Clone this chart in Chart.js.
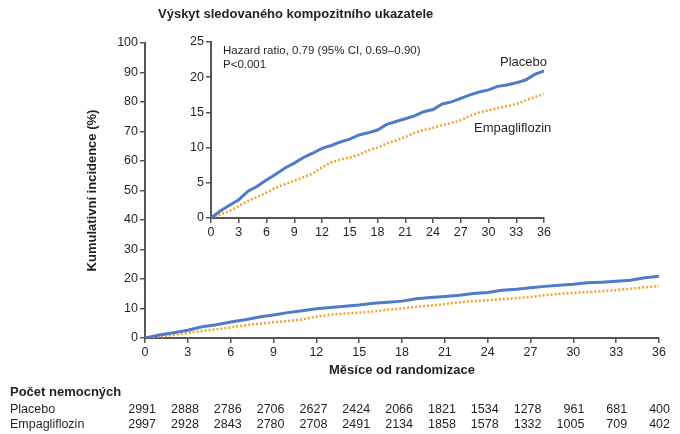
<!DOCTYPE html>
<html>
<head>
<meta charset="utf-8">
<script src="https://cdn.jsdelivr.net/npm/chart.js@4.4.1/dist/chart.umd.min.js"></script>
<style>
  html, body { margin: 0; padding: 0; background: #fff; }
  #wrap { position: relative; width: 680px; height: 434px; }
  canvas { position: absolute; left: 0; top: 0; }
</style>
</head>
<body>
<div id="wrap">
  <canvas id="main" width="680" height="434"></canvas>
  <canvas id="inset" width="680" height="434"></canvas>
</div>
<script>
// months since randomization
const months = [0, 1, 2, 3, 4, 5, 6, 7, 8, 9, 10, 11, 12, 13, 14, 15, 16, 17, 18,
  19, 20, 21, 22, 23, 24, 25, 26, 27, 28, 29, 30, 31, 32, 33, 34, 35, 36];

// cumulative incidence (%)
const placebo = [0, 1.0, 1.8, 2.6, 3.8, 4.5, 5.4, 6.2, 7.1, 7.8, 8.6, 9.2, 9.9, 10.3,
  10.8, 11.2, 11.8, 12.1, 12.5, 13.3, 13.7, 14.1, 14.5, 15.1, 15.4, 16.2, 16.5, 17.0,
  17.5, 17.9, 18.2, 18.7, 18.9, 19.2, 19.6, 20.4, 20.9];
const empagliflozin = [0, 0.5, 1.0, 1.7, 2.4, 3.0, 3.6, 4.3, 4.8, 5.3, 5.8, 6.3, 7.2,
  7.9, 8.3, 8.6, 9.0, 9.6, 10.0, 10.6, 11.0, 11.5, 12.1, 12.5, 12.8, 13.2, 13.5, 13.9,
  14.5, 15.0, 15.3, 15.6, 15.9, 16.2, 16.7, 17.2, 17.6];

// numbers at risk
const riskTicks = [0, 3, 6, 9, 12, 15, 18, 21, 24, 27, 30, 33, 36];
const riskPlacebo = [2991, 2888, 2786, 2706, 2627, 2424, 2066, 1821, 1534, 1278, 961, 681, 400];
const riskEmpa = [2997, 2928, 2843, 2780, 2708, 2491, 2134, 1858, 1578, 1332, 1005, 709, 402];
const groupNames = ["Placebo", "Empagliflozin"];

const BLUE = "#4f7bc8";
const ORANGE = "#f4a22c";
const AXIS = "#555";
const TEXT = "#231f20";
const NARROW = "'Liberation Sans Narrow', 'Liberation Sans', sans-serif";
const SANS = "'Liberation Sans', Arial, sans-serif";

function toXY(ys) {
  return months.map((m, i) => ({ x: m, y: ys[i] }));
}

function datasets(w) {
  return [
    { data: toXY(placebo), borderColor: BLUE, borderWidth: w, pointRadius: 0 },
    { data: toXY(empagliflozin), borderColor: ORANGE, borderWidth: w - 0.5, borderDash: [2, 2], pointRadius: 0 }
  ];
}

function axis(min, max, step, extra) {
  return Object.assign({
    type: "linear", min, max,
    ticks: { stepSize: step, autoSkip: false, maxRotation: 0, color: TEXT, padding: 2,
      font: { family: NARROW, size: 12.5 } },
    grid: { drawOnChartArea: false, tickLength: 5, color: AXIS, lineWidth: 1.5 },
    border: { color: AXIS, width: 2 }
  }, extra);
}

const mainText = {
  id: "mainText",
  afterDraw(chart) {
    const ctx = chart.ctx;
    const x = chart.scales.x;
    ctx.save();
    ctx.fillStyle = TEXT;
    ctx.textBaseline = "middle";
    ctx.font = "bold 13px " + NARROW;
    ctx.fillText("Výskyt sledovaného kompozitního ukazatele", 158, 14);
    ctx.fillText("Počet nemocných", 10, 392);
    ctx.font = "12.5px " + NARROW;
    ctx.fillText(groupNames[0], 10, 410);
    ctx.fillText(groupNames[1], 10, 425);
    ctx.textAlign = "right";
    riskTicks.forEach((t, i) => {
      const px = x.getPixelForValue(t) + 11;
      ctx.fillText(String(riskPlacebo[i]), px, 410);
      ctx.fillText(String(riskEmpa[i]), px, 425);
    });
    ctx.restore();
  }
};

const insetText = {
  id: "insetText",
  afterDraw(chart) {
    const ctx = chart.ctx;
    ctx.save();
    ctx.fillStyle = TEXT;
    ctx.textBaseline = "middle";
    ctx.font = "11.5px " + SANS;
    ctx.fillText("Hazard ratio, 0.79 (95% CI, 0.69–0.90)", 223, 51);
    ctx.fillText("P<0.001", 223, 65);
    ctx.font = "13px " + NARROW;
    ctx.fillText(groupNames[0], 500, 62);
    ctx.fillText(groupNames[1], 474, 128);
    ctx.restore();
  }
};

new Chart(document.getElementById("main"), {
  type: "line",
  data: { datasets: datasets(3) },
  plugins: [mainText],
  options: {
    responsive: false, animation: false, devicePixelRatio: 1,
    layout: { padding: { top: 43, right: 21, left: 0, bottom: 0 } },
    plugins: { legend: { display: false }, tooltip: { enabled: false } },
    scales: {
      x: axis(0, 36, 3, {
        title: { display: true, text: "Měsíce od randomizace", color: TEXT,
          font: { family: NARROW, size: 13, weight: "bold" }, padding: { top: 0, bottom: 56 } },
        afterFit(s) { s.height = 96; s.paddingLeft = 0; s.paddingRight = 0; }
      }),
      y: axis(0, 100, 10, {
        title: { display: true, text: "Kumulativní incidence (%)", color: TEXT,
          font: { family: NARROW, size: 13, weight: "bold" }, padding: { top: 85, bottom: 0 } },
        afterFit(s) { s.width = 145; s.paddingTop = 0; s.paddingBottom = 0; }
      })
    }
  }
});

new Chart(document.getElementById("inset"), {
  type: "line",
  data: { datasets: datasets(3) },
  plugins: [insetText],
  options: {
    responsive: false, animation: false, devicePixelRatio: 1,
    layout: { padding: { top: 42, right: 136, left: 0, bottom: 0 } },
    plugins: { legend: { display: false }, tooltip: { enabled: false } },
    scales: {
      x: axis(0, 36, 3, {
        afterFit(s) { s.height = 216; s.paddingLeft = 0; s.paddingRight = 0; }
      }),
      y: axis(0, 25, 5, {
        afterFit(s) { s.width = 211; s.paddingTop = 0; s.paddingBottom = 0; }
      })
    }
  }
});
</script>
</body>
</html>
